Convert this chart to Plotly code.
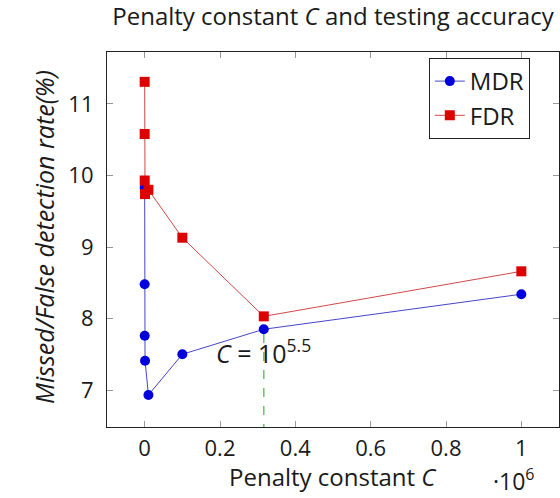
import plotly.graph_objects as go

# Penalty constant values (C) and the resulting error rates in percent
penalty_c = [1, 10, 100, 1e3, 1e4, 1e5, 10 ** 5.5, 1e6]
mdr = [9.83, 8.48, 7.76, 7.41, 6.93, 7.50, 7.85, 8.34]
fdr = [11.31, 10.58, 9.93, 9.74, 9.80, 9.13, 8.03, 8.66]

# chosen penalty constant, marked with a dashed guide line
c_best = 10 ** 5.5
mdr_best = mdr[6]

x_tick_vals = [0, 2e5, 4e5, 6e5, 8e5, 1e6]
x_tick_text = ["0", "0.2", "0.4", "0.6", "0.8", "1"]
y_tick_vals = [7, 8, 9, 10, 11]

FONT = "Open Sans"
TXT = "#1a1a1a"

fig = go.Figure()

fig.add_trace(go.Scatter(
    x=penalty_c, y=mdr, name="MDR", mode="lines+markers",
    line=dict(color="#4646c8", width=1),
    marker=dict(symbol="circle", size=10, color="#0000dd"),
))
fig.add_trace(go.Scatter(
    x=penalty_c, y=fdr, name="FDR", mode="lines+markers",
    line=dict(color="#d04848", width=1),
    marker=dict(symbol="square", size=10, color="#dd0000"),
))

# dashed guide from the chosen point down to the x axis
fig.add_shape(
    type="line", xref="x", yref="y",
    x0=c_best, x1=c_best, y0=6.4, y1=mdr_best,
    line=dict(color="#5ccc5c", width=1.5, dash="dash"),
    layer="below",
)

fig.add_annotation(
    x=c_best, y=mdr_best, xref="x", yref="y",
    text="<i>C</i> = 10<sup>5.5</sup>", showarrow=False,
    yanchor="middle", yshift=-22,
    font=dict(family=FONT, size=25, color=TXT),
)

# axis titles and the x scale factor
fig.add_annotation(
    x=0.5, y=-0.133, xref="paper", yref="paper",
    text="Penalty constant <i>C</i>", showarrow=False,
    xanchor="center", yanchor="middle",
    font=dict(family=FONT, size=24, color=TXT),
)
fig.add_annotation(
    x=0.9, y=-0.141, xref="paper", yref="paper",
    text="·10<sup>6</sup>", showarrow=False,
    xanchor="center", yanchor="middle",
    font=dict(family=FONT, size=23, color=TXT),
)
fig.add_annotation(
    x=-0.139, y=0.507, xref="paper", yref="paper",
    text="<i>Missed/False detection rate(%)</i>", showarrow=False,
    textangle=-90, xanchor="center", yanchor="middle",
    font=dict(family=FONT, size=25, color=TXT),
)

axis_common = dict(
    showgrid=False, zeroline=False,
    showline=True, linecolor="#222222", linewidth=1.2, mirror="ticks",
    ticks="inside", ticklen=6, tickcolor="#9a9a9a", tickwidth=1,
    tickfont=dict(family=FONT, size=22, color=TXT),
)

fig.update_layout(
    width=560, height=498,
    margin=dict(l=107, r=1, t=52, b=71),
    paper_bgcolor="white", plot_bgcolor="white",
    title=dict(
        text="Penalty constant <i>C</i> and testing accuracy",
        x=0.5, xref="paper", xanchor="center",
        y=1 - 17 / 498, yref="container", yanchor="middle",
        font=dict(family=FONT, size=24, color=TXT),
    ),
    xaxis=dict(
        range=[-1e5, 1.1e6], tickvals=x_tick_vals, ticktext=x_tick_text,
        ticklabelstandoff=1, **axis_common,
    ),
    yaxis=dict(
        range=[6.483, 11.727], tickvals=y_tick_vals,
        ticklabelstandoff=8, **axis_common,
    ),
    legend=dict(
        x=0.712, y=0.984, xanchor="left", yanchor="top",
        bgcolor="white", bordercolor="#222222", borderwidth=1,
        font=dict(family=FONT, size=24, color=TXT),
        tracegroupgap=0,
    ),
    showlegend=True,
)

fig.write_html("out.html")
